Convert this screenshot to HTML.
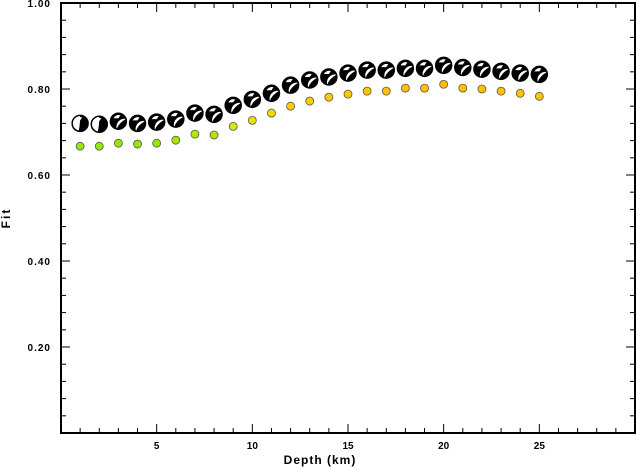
<!DOCTYPE html>
<html><head><meta charset="utf-8"><style>body{margin:0;background:#fff}svg{display:block}text{font-family:"Liberation Sans",sans-serif;font-weight:bold}</style></head>
<body>
<svg id="c" width="637" height="468">
<g id="axes"></g><g id="marks"></g>
<text x="320" y="464" font-size="12" text-anchor="middle" letter-spacing="1">Depth (km)</text>
<text transform="translate(10,218) rotate(-90)" font-size="12" text-anchor="middle" letter-spacing="2">Fit</text>
</svg>
<script>
const depths=[1,2,3,4,5,6,7,8,9,10,11,12,13,14,15,16,17,18,19,20,21,22,23,24,25];
const mechFit=[0.720,0.718,0.725,0.720,0.723,0.730,0.744,0.741,0.762,0.776,0.790,0.809,0.821,0.828,0.837,0.844,0.844,0.848,0.848,0.855,0.850,0.846,0.841,0.837,0.834];
const dotFit=[0.667,0.667,0.674,0.672,0.674,0.681,0.695,0.693,0.713,0.727,0.744,0.760,0.772,0.781,0.788,0.795,0.795,0.802,0.802,0.811,0.802,0.800,0.795,0.790,0.783];
const dotColors=["#99e600","#99e600","#99e600","#99e600","#99e600","#a6e600","#b3e600","#b3e600","#d9e600","#f0e000","#ffd500","#ffcc00","#ffcc00","#ffc800","#ffc800","#ffc400","#ffc400","#ffc000","#ffc000","#ffbb00","#ffc000","#ffc000","#ffc000","#ffc400","#ffc400"];
const xTicks=[5,10,15,20,25];
const yTicks=[0.2,0.4,0.6,0.8,1.0];
const X0=61,X1=635,Y0=433,Y1=3;
const xs=d=>X0+d/30*(X1-X0);
const ys=v=>Y0-v*(Y0-Y1);
const NS="http://www.w3.org/2000/svg";
const axes=document.getElementById('axes'),marks=document.getElementById('marks');
function mk(p,t,a){const e=document.createElementNS(NS,t);for(const k in a)e.setAttribute(k,a[k]);p.appendChild(e);return e;}
const frame=mk(axes,'rect',{x:X0,y:Y1,width:X1-X0,height:Y0-Y1,fill:'none',stroke:'#000','stroke-width':2});


for(let d=1;d<30;d++){const L=d%5===0?9:5;
mk(axes,'line',{x1:xs(d),x2:xs(d),y1:Y0,y2:Y0-L,stroke:'#000','stroke-width':1});
mk(axes,'line',{x1:xs(d),x2:xs(d),y1:Y1,y2:Y1+L,stroke:'#000','stroke-width':1});}
for(let i=1;i<25;i++){const v=i*0.04;const L=i%5===0?9:5;
mk(axes,'line',{x1:X0,x2:X0+L,y1:ys(v),y2:ys(v),stroke:'#000','stroke-width':1});
mk(axes,'line',{x1:X1,x2:X1-L,y1:ys(v),y2:ys(v),stroke:'#000','stroke-width':1});}
xTicks.forEach(t=>{const e=mk(axes,'text',{x:xs(t),y:Y0+16,'font-size':10,'text-anchor':'middle'});e.textContent=t;

});
yTicks.forEach(t=>{const e=mk(axes,'text',{x:X0-10,y:ys(t)+4,'font-size':10,'text-anchor':'end','letter-spacing':1});e.textContent=t.toFixed(2);

});
depths.forEach((d,i)=>{
const cx=xs(d),cy=ys(mechFit[i]),r=8;
const g=mk(marks,'g',{});


mk(g,'circle',{cx:cx,cy:cy,r:r,fill:'#000'});
const a=i<2?Math.PI/2:0.3;
mk(g,'path',{d:`M${cx+r*Math.cos(a)} ${cy-r*Math.sin(a)} A${r} ${r} 0 0 0 ${cx-r*0.2} ${cy+r*0.98} Q${cx} ${cy+2} ${cx+r*Math.cos(a)} ${cy-r*Math.sin(a)}Z`,fill:'#fff'});
mk(g,'path',{d:`M${cx-5} ${cy-3} A6 6 0 0 1 ${cx+2} ${cy-6} L${cx} ${cy-3}Z`,fill:'#fff'});
mk(g,'circle',{cx:cx,cy:cy,r:r,fill:'none',stroke:'#000','stroke-width':1.5});
const dot=mk(marks,'circle',{cx:cx,cy:ys(dotFit[i]),r:4,fill:dotColors[i],stroke:'#555','stroke-width':0.8});


});
</script>
</body></html>
